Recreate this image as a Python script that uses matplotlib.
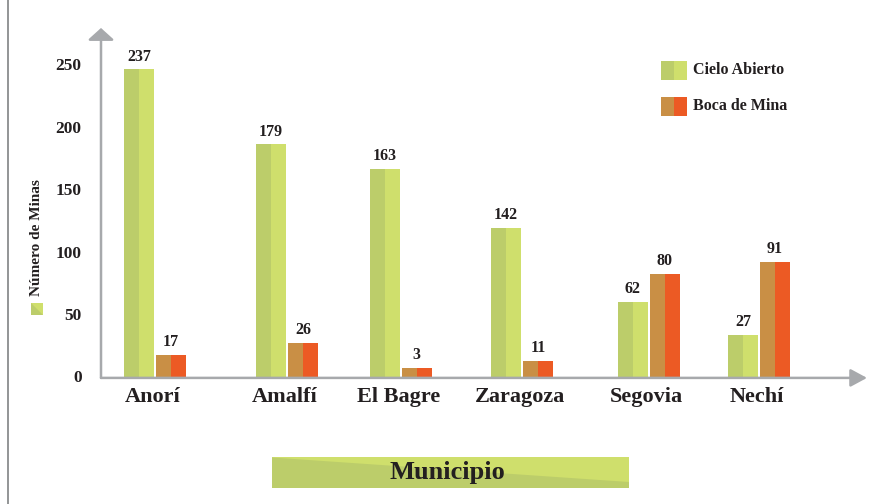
import matplotlib
matplotlib.use("Agg")
import matplotlib.pyplot as plt
from matplotlib.patches import Polygon, Rectangle
from matplotlib.lines import Line2D

# ---- data ----
municipios = ["Anorí", "Amalfí", "El Bagre", "Zaragoza", "Segovia", "Nechí"]
cielo_labels = [237, 179, 163, 142, 62, 27]
boca_labels = [17, 26, 3, 11, 80, 91]
# bar heights as drawn in the picture (in axis units)
cielo_heights = [246, 186, 166, 119, 60, 33]
boca_heights = [17.6, 27.2, 7.2, 12.8, 82.5, 92.1]
yticks = [0, 50, 100, 150, 200, 250]
series_names = ["Cielo Abierto", "Boca de Mina"]

# ---- layout / style ----
W, H, DPI = 872, 504, 100
group_pos = [54, 186, 299.5, 421, 547.5, 658]  # group centres along the x axis
half_w = 15
gap = 1
green_dark, green_light = "#bccd6a", "#cfdf6c"
orange_dark, orange_light = "#c98f45", "#ec5a24"
axis_gray = "#a7a9ac"
txt = "#231f20"
FONT = ["Liberation Serif", "DejaVu Serif"]

plt.rcParams["font.family"] = FONT
plt.rcParams["font.weight"] = "bold"

fig = plt.figure(figsize=(W / DPI, H / DPI), dpi=DPI)
fig.patch.set_facecolor("white")

def fx(x):
    return x / W

def fy(y):
    return 1 - y / H

# axes: x from px 101 to 867, y zero at px 376.5, top at px 28
ax_left, ax_right, ax_zero, ax_top = 101, 867, 376.5, 28
ax = fig.add_axes([fx(ax_left), fy(ax_zero), (ax_right - ax_left) / W, (ax_zero - ax_top) / H])
ax.set_xlim(0, ax_right - ax_left)
ax.set_ylim(0, (ax_zero - ax_top) / 1.248)
ax.set_facecolor("none")
for s in ax.spines.values():
    s.set_visible(False)
ax.set_xticks([])
ax.set_yticks(yticks)
ax.set_yticklabels([str(v) for v in yticks], fontsize=12.5, fontweight="bold", color=txt)
ax.tick_params(axis="y", length=0, pad=14)

# bars (two-tone halves)
for i, c in enumerate(group_pos):
    hc = cielo_heights[i]
    hb = boca_heights[i]
    ax.bar(c - gap - 2 * half_w, hc, width=half_w, align="edge", color=green_dark, linewidth=0, zorder=3)
    ax.bar(c - gap - half_w, hc, width=half_w, align="edge", color=green_light, linewidth=0, zorder=3)
    ax.bar(c + gap, hb, width=half_w, align="edge", color=orange_dark, linewidth=0, zorder=3)
    ax.bar(c + gap + half_w, hb, width=half_w, align="edge", color=orange_light, linewidth=0, zorder=3)
    ax.annotate(str(cielo_labels[i]), (c - gap - half_w, hc), xytext=(0, 3.5), textcoords="offset points",
                ha="center", va="bottom", fontsize=11.5, fontweight="bold", color=txt)
    ax.annotate(str(boca_labels[i]), (c + gap + half_w, hb), xytext=(0, 3.5), textcoords="offset points",
                ha="center", va="bottom", fontsize=11.5, fontweight="bold", color=txt)
    ax.text(c - 2, -0.058, municipios[i], transform=ax.get_xaxis_transform(), ha="center", va="center",
            fontsize=16, fontweight="bold", color=txt)

# axis arrows
ax.annotate("", xy=(0, 1.0), xytext=(0, -0.004), xycoords="axes fraction", textcoords="axes fraction",
            arrowprops=dict(arrowstyle="-|>,head_length=0.72,head_width=0.8", color=axis_gray, lw=1.8,
                            shrinkA=0, shrinkB=0), annotation_clip=False)
ax.annotate("", xy=(1.0, -0.004), xytext=(0, -0.004), xycoords="axes fraction", textcoords="axes fraction",
            arrowprops=dict(arrowstyle="-|>,head_length=1.0,head_width=0.54", color=axis_gray, lw=1.8,
                            shrinkA=0, shrinkB=0), annotation_clip=False)

# left frame line
fig.add_artist(Line2D([fx(8), fx(8)], [0, 1], color="#8a8c8e", lw=1.3, transform=fig.transFigure))

# y label with small square
fig.text(fx(36), fy(238), "Número de Minas", rotation=90, ha="center", va="center",
         fontsize=11, fontweight="bold", color=txt)
sq = [(31, 303), (43, 303), (43, 315), (31, 315)]
fig.add_artist(Polygon([(fx(x), fy(y)) for x, y in sq], closed=True, transform=fig.transFigure,
                       facecolor=green_light, edgecolor="none"))
fig.add_artist(Polygon([(fx(31), fy(303)), (fx(43), fy(315)), (fx(31), fy(315))], closed=True,
                       transform=fig.transFigure, facecolor=green_dark, edgecolor="none"))

# legend (manual)
leg_items = [(61, 80, green_dark, green_light), (97, 116, orange_dark, orange_light)]
for (y0, y1, cd, cl), name in zip(leg_items, series_names):
    fig.add_artist(Rectangle((fx(661), fy(y1)), 13 / W, (y1 - y0) / H, transform=fig.transFigure,
                             facecolor=cd, edgecolor="none"))
    fig.add_artist(Rectangle((fx(674), fy(y1)), 13 / W, (y1 - y0) / H, transform=fig.transFigure,
                             facecolor=cl, edgecolor="none"))
    fig.text(fx(693), fy((y0 + y1) / 2), name, ha="left", va="center", fontsize=11.5,
             fontweight="bold", color=txt)

# Municipio box with diagonal two-tone fill
bx0, bx1, by0, by1 = 272, 629, 457, 488
fig.add_artist(Polygon([(fx(bx0), fy(by0)), (fx(bx1), fy(by0)), (fx(bx1), fy(by1)), (fx(bx0), fy(by1))],
                       closed=True, transform=fig.transFigure, facecolor=green_light, edgecolor="none"))
fig.add_artist(Polygon([(fx(bx0), fy(by0 + 0.5)), (fx(bx1), fy(482)), (fx(bx1), fy(by1)), (fx(bx0), fy(by1))],
                       closed=True, transform=fig.transFigure, facecolor=green_dark, edgecolor="none"))
fig.text(fx(447), fy(472), "Municipio", ha="center", va="center", fontsize=19, fontweight="bold", color=txt)

fig.savefig("out.png", dpi=DPI)
